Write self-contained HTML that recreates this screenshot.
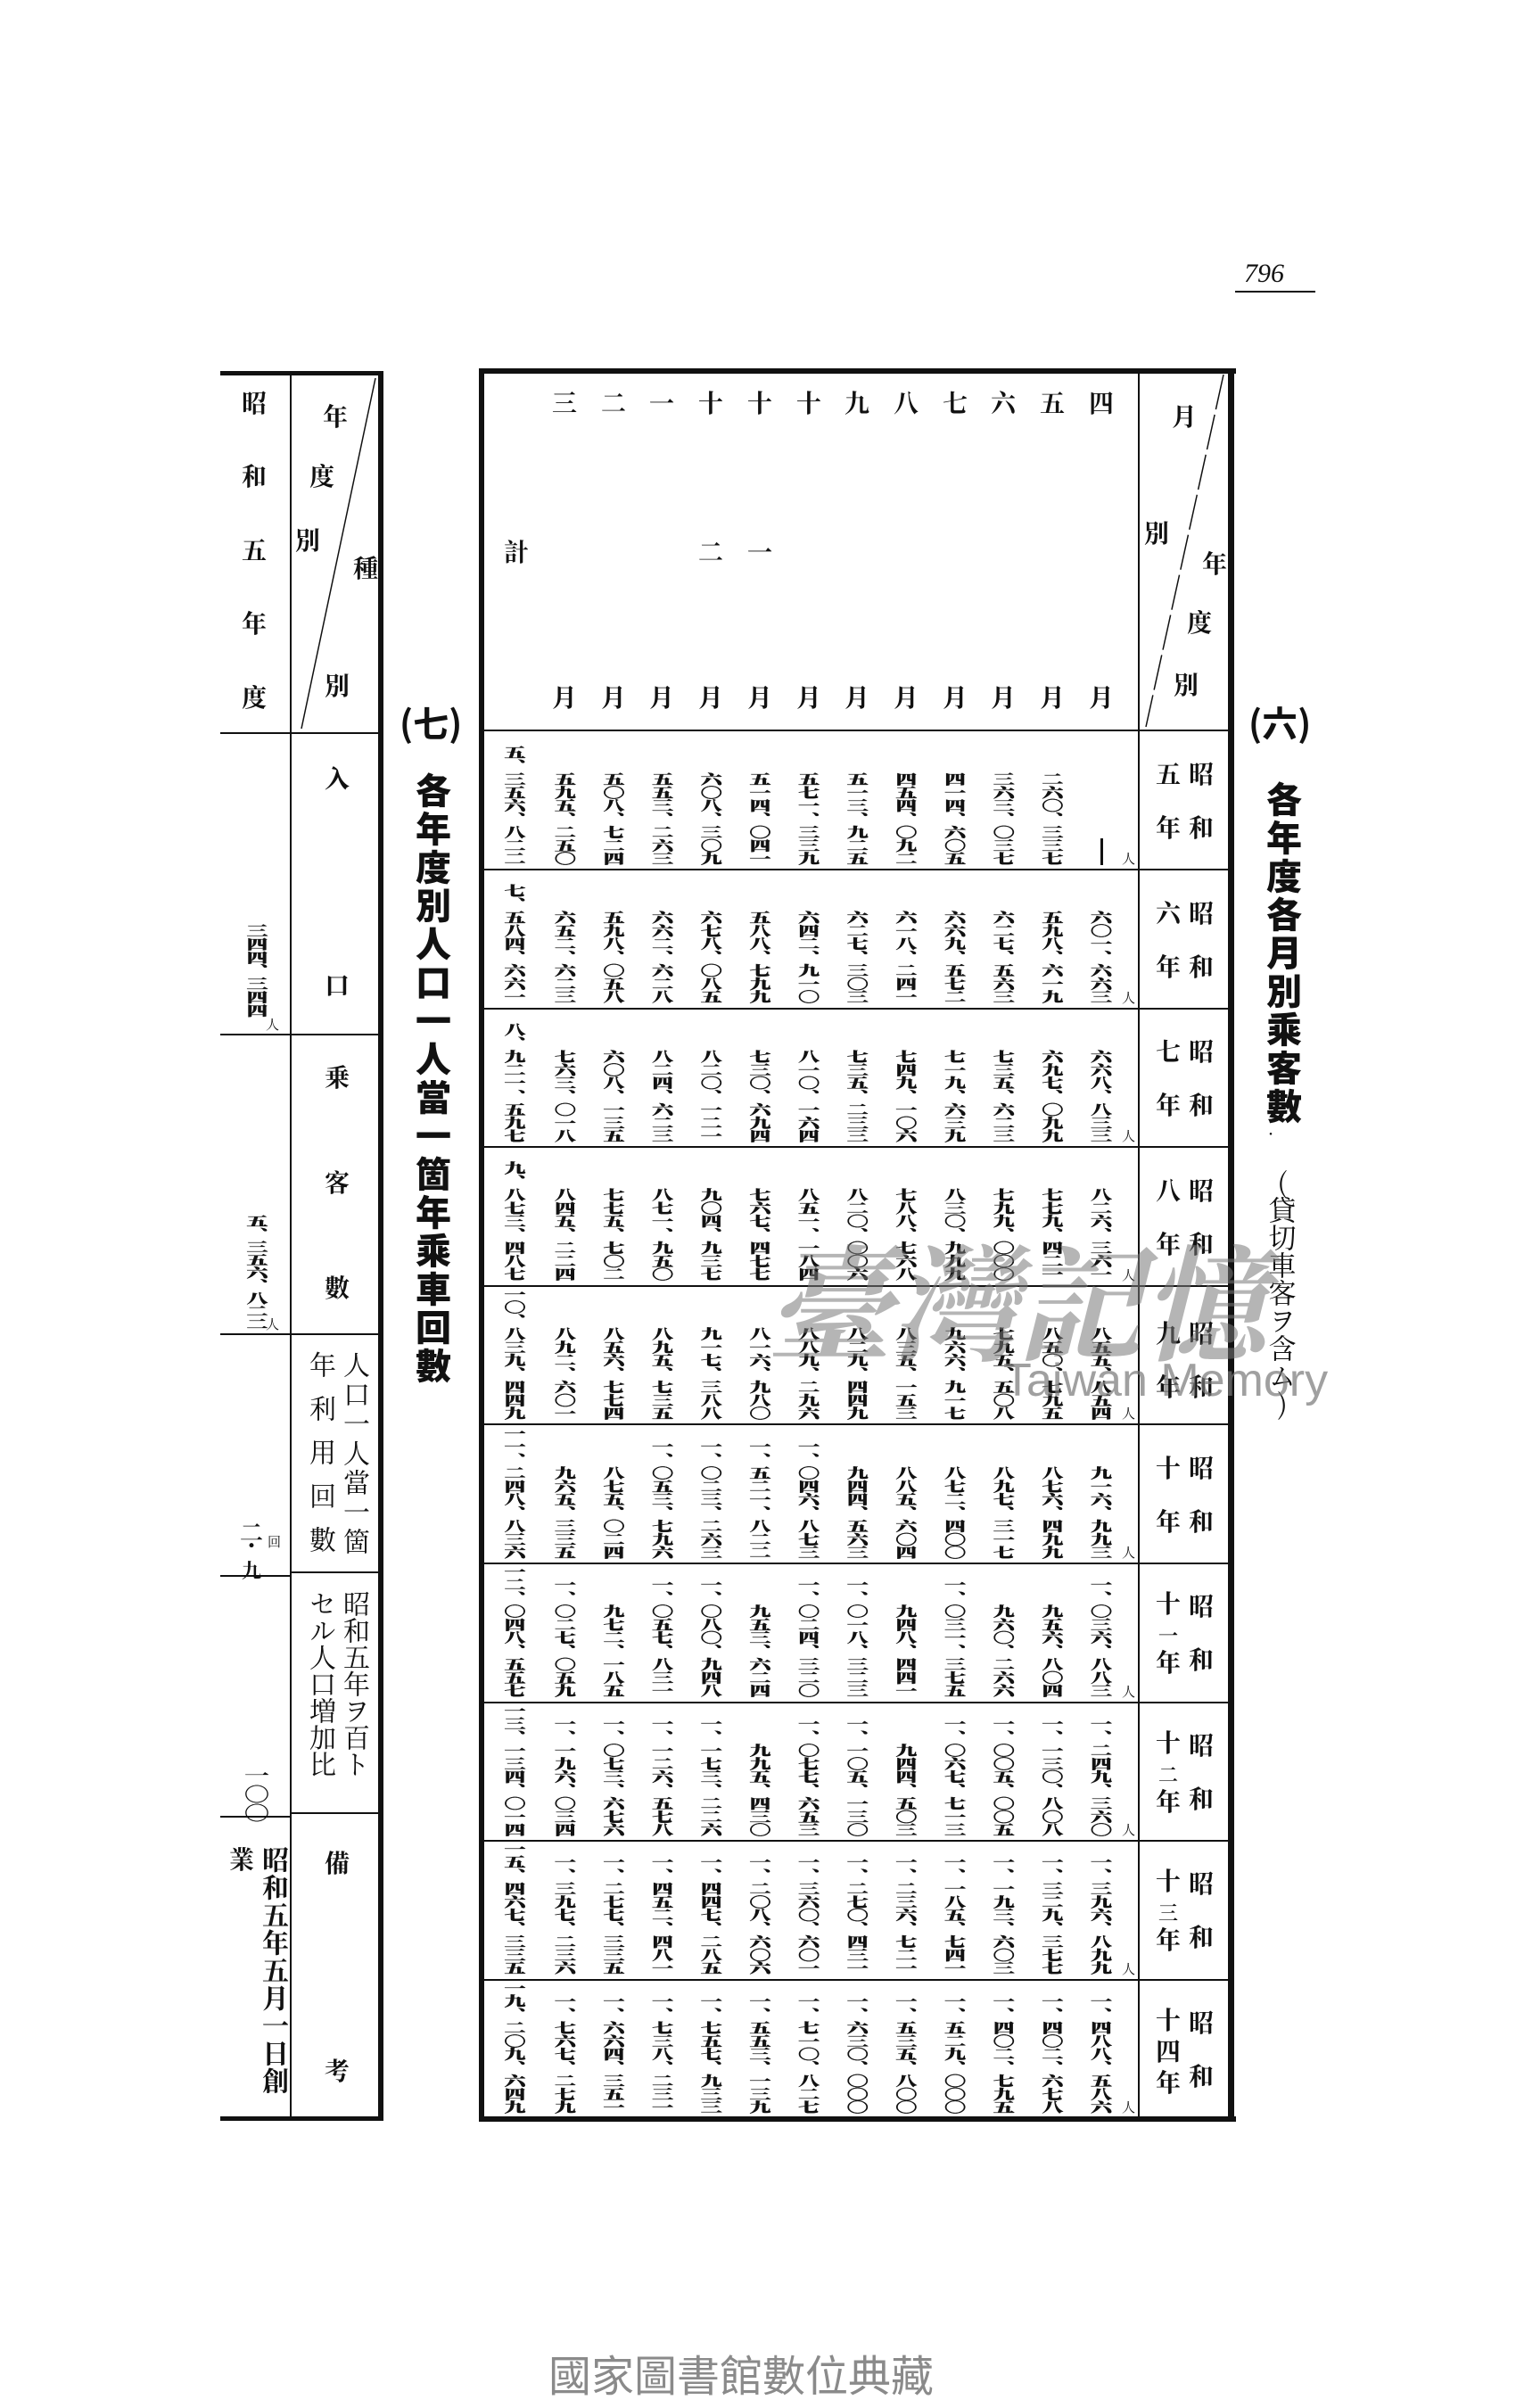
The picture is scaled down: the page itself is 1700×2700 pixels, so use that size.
<!DOCTYPE html>
<html><head><meta charset="utf-8"><style>
*{margin:0;padding:0;box-sizing:border-box}
body{width:1700px;height:2700px;background:#fff;position:relative;overflow:hidden;font-family:"Liberation Serif","Noto Serif CJK SC",serif;color:#111}
.a{position:absolute}
.l{position:absolute;background:#111}
.ch{position:absolute;font-size:28px;line-height:28px;width:30px;text-align:center;transform:translate(-50%,-50%);font-weight:700}
.v{position:absolute;writing-mode:vertical-rl;text-orientation:upright;line-height:1;transform:translateX(-50%)}
.grid{position:absolute;left:548px;top:819px;width:714px;height:1556px;display:grid;grid-template-columns:58px repeat(12,54.67px);grid-template-rows:repeat(10,155.6px)}
.grid div{display:flex;justify-content:center;align-items:flex-end;padding-bottom:5px;overflow:visible}
.grid span{writing-mode:vertical-rl;text-orientation:upright;font-size:24px;line-height:1;font-weight:900;font-family:"Noto Serif CJK SC",serif;transform:scaleY(0.62);transform-origin:bottom center;white-space:nowrap;-webkit-text-stroke:0.6px #111}
</style></head><body>

<div class="a" style="left:1395px;top:290px;font-size:30px;font-style:italic;font-family:'Liberation Serif',serif">796</div>
<div class="l" style="left:1385px;top:326px;width:90px;height:2px"></div>

<!-- LEFT TABLE -->
<div class="l" style="left:247px;top:416px;width:182px;height:5px"></div>
<div class="l" style="left:424px;top:416px;width:6px;height:1962px"></div>
<div class="l" style="left:247px;top:2373px;width:182px;height:5px"></div>
<div class="l" style="left:325px;top:420px;width:2px;height:1955px"></div>
<div class="l" style="left:247px;top:821px;width:178px;height:2px"></div>
<div class="l" style="left:247px;top:1159px;width:178px;height:2px"></div>
<div class="l" style="left:247px;top:1495px;width:178px;height:2px"></div>
<div class="l" style="left:247px;top:1766px;width:78px;height:2px"></div>
<div class="l" style="left:327px;top:1762px;width:98px;height:2px"></div>
<div class="l" style="left:247px;top:2036px;width:78px;height:2px"></div>
<div class="l" style="left:327px;top:2032px;width:98px;height:2px"></div>
<svg class="a" style="left:0;top:0" width="1700" height="2700"><line x1="421" y1="424" x2="338" y2="817" stroke="#111" stroke-width="1.5"/><line x1="1372" y1="420" x2="1285" y2="815" stroke="#111" stroke-width="1.5" stroke-dasharray="40 6"/></svg>
<div class="ch" style="left:285px;top:454px">昭</div>
<div class="ch" style="left:285px;top:536px">和</div>
<div class="ch" style="left:285px;top:619px">五</div>
<div class="ch" style="left:285px;top:701px">年</div>
<div class="ch" style="left:285px;top:784px">度</div>
<div class="ch" style="left:376px;top:469px">年</div>
<div class="ch" style="left:361px;top:536px">度</div>
<div class="ch" style="left:345px;top:608px">別</div>
<div class="ch" style="left:410px;top:639px">種</div>
<div class="ch" style="left:378px;top:771px">別</div>
<div class="ch" style="left:378px;top:875px">入</div>
<div class="ch" style="left:378px;top:1107px">口</div>
<div class="ch" style="left:378px;top:1210px">乗</div>
<div class="ch" style="left:378px;top:1328px">客</div>
<div class="ch" style="left:378px;top:1446px">數</div>
<div class="v" style="left:396px;top:1515px;font-size:30px;letter-spacing:3px">人口一人當一箇</div>
<div class="v" style="left:358px;top:1515px;font-size:30px;letter-spacing:19px">年利用回數</div>
<div class="v" style="left:396px;top:1783px;font-size:30px">昭和五年ヲ百ト</div>
<div class="v" style="left:358px;top:1783px;font-size:30px">セル人口増加比</div>
<div class="ch" style="left:378px;top:2091px">備</div>
<div class="ch" style="left:378px;top:2324px">考</div>
<div class="v" style="left:305px;top:2070px;font-size:30px;line-height:1;letter-spacing:1px;font-weight:700">昭和五年五月一日創</div>
<div class="ch" style="left:271px;top:2087px">業</div>
<div class="v" style="left:285px;top:1036px;font-size:24px;font-weight:900;-webkit-text-stroke:0.6px #111;transform:translateX(-50%) scaleY(0.62);transform-origin:top">三四四、三四四</div>
<div class="a" style="left:298px;top:1138px;font-size:15px">人</div>
<div class="v" style="left:285px;top:1362px;font-size:24px;font-weight:900;-webkit-text-stroke:0.6px #111;transform:translateX(-50%) scaleY(0.6);transform-origin:top">五、三五六、八二二</div>
<div class="a" style="left:298px;top:1474px;font-size:15px">人</div>
<div class="ch" style="left:282px;top:1720px;font-size:26px">二</div>
<div class="ch" style="left:282px;top:1748px;font-size:22px">・九</div>
<div class="a" style="left:300px;top:1718px;font-size:15px">回</div>
<div class="v" style="left:285px;top:1980px;font-size:28px;font-weight:700;transform:translateX(-50%) scaleY(0.75);transform-origin:top">一〇〇</div>

<div class="a" style="left:448px;top:780px;font-size:40px;font-weight:700;font-family:'Noto Sans CJK JP',sans-serif">(七)</div>
<div class="v" style="left:486px;top:866px;font-size:40px;letter-spacing:3px;font-weight:900;font-family:'Noto Sans CJK JP',sans-serif">各年度別人口一人當一箇年乘車回數</div>

<!-- MAIN TABLE -->
<div class="l" style="left:537px;top:413px;width:849px;height:6px"></div>
<div class="l" style="left:537px;top:413px;width:6px;height:1966px"></div>
<div class="l" style="left:1377px;top:413px;width:7px;height:1966px"></div>
<div class="l" style="left:537px;top:2373px;width:849px;height:6px"></div>
<div class="l" style="left:1276px;top:416px;width:2px;height:1960px"></div>
<div class="l" style="left:540px;top:818px;width:840px;height:2px"></div>
<div class="l" style="left:540px;top:974px;width:840px;height:2px"></div>
<div class="l" style="left:540px;top:1130px;width:840px;height:2px"></div>
<div class="l" style="left:540px;top:1285px;width:840px;height:2px"></div>
<div class="l" style="left:540px;top:1441px;width:840px;height:2px"></div>
<div class="l" style="left:540px;top:1596px;width:840px;height:2px"></div>
<div class="l" style="left:540px;top:1752px;width:840px;height:2px"></div>
<div class="l" style="left:540px;top:1908px;width:840px;height:2px"></div>
<div class="l" style="left:540px;top:2063px;width:840px;height:2px"></div>
<div class="l" style="left:540px;top:2219px;width:840px;height:2px"></div>

<div class="ch" style="left:633px;top:454px">三</div>
<div class="ch" style="left:688px;top:454px">二</div>
<div class="ch" style="left:742px;top:454px">一</div>
<div class="ch" style="left:797px;top:454px">十</div>
<div class="ch" style="left:852px;top:454px">十</div>
<div class="ch" style="left:907px;top:454px">十</div>
<div class="ch" style="left:961px;top:454px">九</div>
<div class="ch" style="left:1016px;top:454px">八</div>
<div class="ch" style="left:1071px;top:454px">七</div>
<div class="ch" style="left:1125px;top:454px">六</div>
<div class="ch" style="left:1180px;top:454px">五</div>
<div class="ch" style="left:1235px;top:454px">四</div>
<div class="ch" style="left:797px;top:621px">二</div>
<div class="ch" style="left:852px;top:621px">一</div>
<div class="ch" style="left:579px;top:621px">計</div>
<div class="ch" style="left:633px;top:784px">月</div>
<div class="ch" style="left:688px;top:784px">月</div>
<div class="ch" style="left:742px;top:784px">月</div>
<div class="ch" style="left:797px;top:784px">月</div>
<div class="ch" style="left:852px;top:784px">月</div>
<div class="ch" style="left:907px;top:784px">月</div>
<div class="ch" style="left:961px;top:784px">月</div>
<div class="ch" style="left:1016px;top:784px">月</div>
<div class="ch" style="left:1071px;top:784px">月</div>
<div class="ch" style="left:1125px;top:784px">月</div>
<div class="ch" style="left:1180px;top:784px">月</div>
<div class="ch" style="left:1235px;top:784px">月</div>
<div class="ch" style="left:1328px;top:469px">月</div>
<div class="ch" style="left:1297px;top:600px">別</div>
<div class="ch" style="left:1362px;top:634px">年</div>
<div class="ch" style="left:1345px;top:700px">度</div>
<div class="ch" style="left:1330px;top:770px">別</div>

<div class="ch" style="left:1347px;top:870px">昭</div><div class="ch" style="left:1347px;top:930px">和</div><div class="ch" style="left:1310px;top:870px">五</div><div class="ch" style="left:1310px;top:930px">年</div>
<div class="ch" style="left:1347px;top:1026px">昭</div><div class="ch" style="left:1347px;top:1086px">和</div><div class="ch" style="left:1310px;top:1026px">六</div><div class="ch" style="left:1310px;top:1086px">年</div>
<div class="ch" style="left:1347px;top:1181px">昭</div><div class="ch" style="left:1347px;top:1241px">和</div><div class="ch" style="left:1310px;top:1181px">七</div><div class="ch" style="left:1310px;top:1241px">年</div>
<div class="ch" style="left:1347px;top:1337px">昭</div><div class="ch" style="left:1347px;top:1397px">和</div><div class="ch" style="left:1310px;top:1337px">八</div><div class="ch" style="left:1310px;top:1397px">年</div>
<div class="ch" style="left:1347px;top:1497px">昭</div><div class="ch" style="left:1347px;top:1557px">和</div><div class="ch" style="left:1310px;top:1497px">九</div><div class="ch" style="left:1310px;top:1557px">年</div>
<div class="ch" style="left:1347px;top:1648px">昭</div><div class="ch" style="left:1347px;top:1708px">和</div><div class="ch" style="left:1310px;top:1648px">十</div><div class="ch" style="left:1310px;top:1708px">年</div>
<div class="ch" style="left:1347px;top:1803px">昭</div><div class="ch" style="left:1347px;top:1863px">和</div><div class="ch" style="left:1310px;top:1800px">十</div><div class="ch" style="left:1310px;top:1835px;font-size:22px">一</div><div class="ch" style="left:1310px;top:1866px">年</div>
<div class="ch" style="left:1347px;top:1959px">昭</div><div class="ch" style="left:1347px;top:2019px">和</div><div class="ch" style="left:1310px;top:1956px">十</div><div class="ch" style="left:1310px;top:1991px;font-size:22px">二</div><div class="ch" style="left:1310px;top:2022px">年</div>
<div class="ch" style="left:1347px;top:2114px">昭</div><div class="ch" style="left:1347px;top:2174px">和</div><div class="ch" style="left:1310px;top:2111px">十</div><div class="ch" style="left:1310px;top:2146px;font-size:22px">三</div><div class="ch" style="left:1310px;top:2177px">年</div>
<div class="ch" style="left:1347px;top:2270px">昭</div><div class="ch" style="left:1347px;top:2330px">和</div><div class="ch" style="left:1310px;top:2267px">十</div><div class="ch" style="left:1310px;top:2302px">四</div><div class="ch" style="left:1310px;top:2337px">年</div>

<div class="a" style="left:1258px;top:952px;font-size:15px">人</div>
<div class="a" style="left:1258px;top:1108px;font-size:15px">人</div>
<div class="a" style="left:1258px;top:1263px;font-size:15px">人</div>
<div class="a" style="left:1258px;top:1419px;font-size:15px">人</div>
<div class="a" style="left:1258px;top:1574px;font-size:15px">人</div>
<div class="a" style="left:1258px;top:1730px;font-size:15px">人</div>
<div class="a" style="left:1258px;top:1886px;font-size:15px">人</div>
<div class="a" style="left:1258px;top:2041px;font-size:15px">人</div>
<div class="a" style="left:1258px;top:2197px;font-size:15px">人</div>
<div class="a" style="left:1258px;top:2352px;font-size:15px">人</div>
<div class="l" style="left:1234px;top:940px;width:3px;height:30px"></div>

<div class="grid">
<div><span>五、三五六、八二二</span></div><div><span>五九五、二五〇</span></div><div><span>五〇八、七二四</span></div><div><span>五五三、二六三</span></div><div><span>六〇八、三〇九</span></div><div><span>五一四、〇四一</span></div><div><span>五七一、三三九</span></div><div><span>五一三、九二五</span></div><div><span>四五四、〇九二</span></div><div><span>四一四、六〇五</span></div><div><span>三六三、〇三七</span></div><div><span>二六〇、三三七</span></div><div></div>
<div><span>七、五八四、六六一</span></div><div><span>六五二、六二三</span></div><div><span>五九八、〇五八</span></div><div><span>六六二、六二八</span></div><div><span>六七八、〇八五</span></div><div><span>五八八、七九九</span></div><div><span>六四二、九一〇</span></div><div><span>六二七、三〇三</span></div><div><span>六一八、二四一</span></div><div><span>六六九、五七二</span></div><div><span>六二七、五六三</span></div><div><span>五九八、六一九</span></div><div><span>六〇一、六六三</span></div>
<div><span>八、九二一、五九七</span></div><div><span>七六三、〇一八</span></div><div><span>六〇八、一三五</span></div><div><span>八二四、六二三</span></div><div><span>八二〇、一二一</span></div><div><span>七三〇、六九四</span></div><div><span>八一〇、一六四</span></div><div><span>七三五、二三三</span></div><div><span>七四九、一〇六</span></div><div><span>七一九、六三九</span></div><div><span>七三五、六二三</span></div><div><span>六九七、〇九九</span></div><div><span>六六八、八三三</span></div>
<div><span>九、八七三、四八七</span></div><div><span>八四五、二二四</span></div><div><span>七七五、七〇二</span></div><div><span>八七一、九五〇</span></div><div><span>九〇四、九三七</span></div><div><span>七六七、四七七</span></div><div><span>八五一、一八四</span></div><div><span>八二〇、〇〇六</span></div><div><span>七八八、七六八</span></div><div><span>八三〇、九九九</span></div><div><span>七九九、〇〇〇</span></div><div><span>七七九、四二一</span></div><div><span>八二六、三六一</span></div>
<div><span>一〇、八三九、四四九</span></div><div><span>八九二、六〇一</span></div><div><span>八五六、七七四</span></div><div><span>八九五、七三五</span></div><div><span>九一七、三八八</span></div><div><span>八一六、九八〇</span></div><div><span>八八九、二九六</span></div><div><span>八二九、四四九</span></div><div><span>八三五、一五三</span></div><div><span>九六六、九一七</span></div><div><span>七九五、五〇八</span></div><div><span>八五〇、七九五</span></div><div><span>八五五、八五四</span></div>
<div><span>一一、二四八、八三六</span></div><div><span>九六五、三三五</span></div><div><span>八七五、〇二四</span></div><div><span>一、〇五三、七九六</span></div><div><span>一、〇二三、二六三</span></div><div><span>一、五二一、八二二</span></div><div><span>一、〇四六、八七三</span></div><div><span>九四四、五六三</span></div><div><span>八八五、六〇四</span></div><div><span>八七二、四〇〇</span></div><div><span>八九七、三一七</span></div><div><span>八七六、四九九</span></div><div><span>九一六、九九三</span></div>
<div><span>一二、〇四八、五五七</span></div><div><span>一、〇二七、〇五九</span></div><div><span>九七二、一八五</span></div><div><span>一、〇五七、八三一</span></div><div><span>一、〇八〇、九四八</span></div><div><span>九五三、六二四</span></div><div><span>一、〇二四、三二〇</span></div><div><span>一、〇一八、三二三</span></div><div><span>九四八、四四一</span></div><div><span>一、〇三一、三七五</span></div><div><span>九六〇、二六六</span></div><div><span>九五六、八〇四</span></div><div><span>一、〇三六、八八三</span></div>
<div><span>一三、一三四、〇一四</span></div><div><span>一、一九六、〇三四</span></div><div><span>一、〇七三、六七六</span></div><div><span>一、一二六、五七八</span></div><div><span>一、一七三、二二六</span></div><div><span>九九五、四三〇</span></div><div><span>一、〇七七、六五三</span></div><div><span>一、一〇五、一三〇</span></div><div><span>九四四、五〇三</span></div><div><span>一、〇六七、七一三</span></div><div><span>一、〇〇五、〇〇五</span></div><div><span>一、一三〇、八〇八</span></div><div><span>一、二四九、三六〇</span></div>
<div><span>一五、四六七、三三五</span></div><div><span>一、三九七、二三六</span></div><div><span>一、二七七、三三五</span></div><div><span>一、四五二、四八一</span></div><div><span>一、四四七、二八五</span></div><div><span>一、二〇八、六〇六</span></div><div><span>一、三六〇、六〇一</span></div><div><span>一、二七〇、四三一</span></div><div><span>一、二三六、七二一</span></div><div><span>一、一八五、七四一</span></div><div><span>一、一九三、六〇三</span></div><div><span>一、三二九、三七七</span></div><div><span>一、三九六、八九九</span></div>
<div><span>一九、二〇九、六四九</span></div><div><span>一、七六七、二七九</span></div><div><span>一、六六四、三五一</span></div><div><span>一、七三八、二三一</span></div><div><span>一、七五七、九三三</span></div><div><span>一、五五三、一三九</span></div><div><span>一、七一〇、八二七</span></div><div><span>一、六三〇、〇〇〇</span></div><div><span>一、五三五、八〇〇</span></div><div><span>一、五二九、〇〇〇</span></div><div><span>一、四〇二、七九五</span></div><div><span>一、四〇二、六七八</span></div><div><span>一、四八八、五八六</span></div>
</div>

<div class="a" style="left:1400px;top:780px;font-size:40px;font-weight:700;font-family:'Noto Sans CJK JP',sans-serif">(六)</div>
<div class="v" style="left:1440px;top:876px;font-size:40px;letter-spacing:3px;font-weight:900;font-family:'Noto Sans CJK JP',sans-serif">各年度各月別乘客數</div>
<div class="a" style="left:1418px;top:1262px;font-size:14px">・</div>
<div class="v" style="left:1438px;top:1310px;font-size:31px;line-height:1;font-family:'Noto Serif CJK SC',serif">(貸切車客ヲ含ム)</div>

<div class="a" style="left:860px;top:1380px;font-size:140px;line-height:150px;color:rgba(120,120,120,0.55);font-family:'Noto Serif CJK TC','Noto Serif CJK SC',serif;font-style:italic;white-space:nowrap;font-weight:700">臺灣記憶</div>
<div class="a" style="left:1125px;top:1518px;font-size:52px;color:rgba(120,120,120,0.7);font-family:'Liberation Sans',sans-serif;white-space:nowrap">Taiwan Memory</div>

<div class="a" style="left:615px;top:2633px;font-size:48px;line-height:54px;color:#8a8a8a;font-family:'Noto Sans CJK TC','Noto Sans CJK SC',sans-serif;white-space:nowrap">國家圖書館數位典藏</div>
</body></html>
